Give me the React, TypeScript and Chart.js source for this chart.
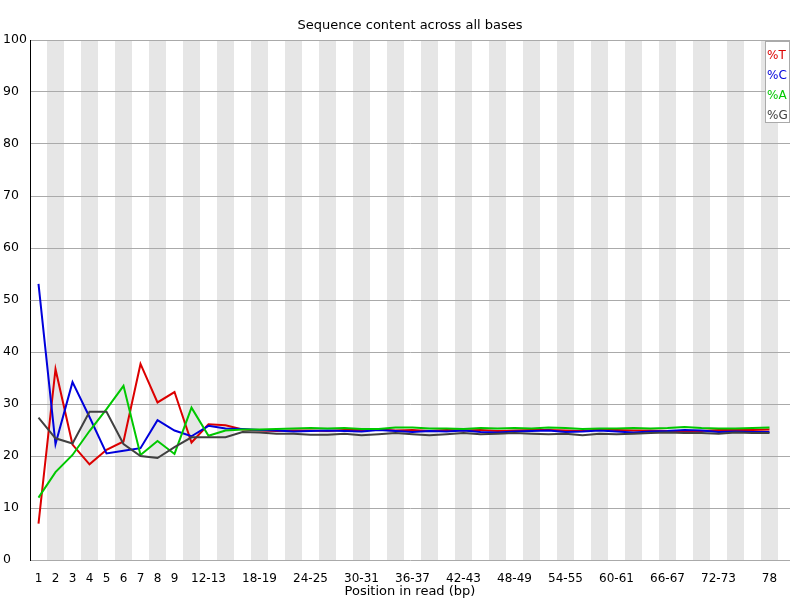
import React, { useEffect, useRef } from "react";
import { Chart, registerables } from "chart.js";

Chart.register(...registerables);

const categories: string[] = [
  "1", "2", "3", "4", "5", "6", "7", "8", "9",
  "10-11", "12-13", "14-15", "16-17", "18-19", "20-21", "22-23", "24-25", "26-27",
  "28-29", "30-31", "32-33", "34-35", "36-37", "38-39", "40-41", "42-43", "44-45",
  "46-47", "48-49", "50-51", "52-53", "54-55", "56-57", "58-59", "60-61", "62-63",
  "64-65", "66-67", "68-69", "70-71", "72-73", "74-75", "76-77", "78",
];

const xTickLabels: string[] = [
  "1", "2", "3", "4", "5", "6", "7", "8", "9", "12-13", "18-19", "24-25", "30-31",
  "36-37", "42-43", "48-49", "54-55", "60-61", "66-67", "72-73", "78",
];

const pctT: number[] = [
  7.0, 36.7, 22.2, 18.4, 21.2, 22.8, 37.7, 30.3, 32.3, 22.6, 26.1, 25.9, 25.1,
  24.9, 24.8, 24.9, 24.9, 24.8, 25.0, 25.0, 25.1, 24.9, 25.0, 24.8, 25.0, 24.9,
  25.0, 24.8, 24.9, 25.0, 25.0, 24.9, 24.8, 25.1, 25.0, 24.9, 24.9, 24.8, 24.7,
  24.8, 25.0, 25.0, 25.0, 25.1,
];

const pctC: number[] = [
  53.1, 22.3, 34.2, 27.5, 20.5, 21.0, 21.5, 26.9, 24.9, 23.8, 25.8, 25.3, 25.2,
  25.0, 24.9, 24.7, 24.8, 24.9, 24.8, 24.7, 25.0, 24.8, 24.6, 24.8, 24.7, 24.9,
  24.6, 24.5, 24.7, 24.8, 24.9, 24.6, 24.7, 24.9, 24.7, 24.5, 24.7, 24.8, 25.0,
  24.9, 24.6, 24.7, 24.6, 24.6,
];

const pctA: number[] = [
  12.0, 16.9, 20.2, 24.8, 29.0, 33.5, 20.2, 22.9, 20.4, 29.3, 23.9, 24.9, 25.1,
  25.1, 25.2, 25.3, 25.4, 25.3, 25.4, 25.2, 25.2, 25.5, 25.5, 25.3, 25.3, 25.2,
  25.4, 25.3, 25.4, 25.3, 25.5, 25.4, 25.2, 25.3, 25.3, 25.4, 25.3, 25.4, 25.6,
  25.4, 25.3, 25.3, 25.4, 25.5,
];

const pctG: number[] = [
  27.4, 23.4, 22.4, 28.5, 28.5, 22.3, 20.0, 19.6, 21.7, 23.6, 23.6, 23.6, 24.6,
  24.5, 24.3, 24.3, 24.1, 24.1, 24.3, 24.0, 24.2, 24.4, 24.2, 24.0, 24.2, 24.4,
  24.2, 24.3, 24.4, 24.3, 24.2, 24.3, 24.0, 24.3, 24.2, 24.3, 24.4, 24.5, 24.4,
  24.4, 24.3, 24.5, 24.4, 24.4,
];

const seriesNames: string[] = ["%T", "%C", "%A", "%G"];
const seriesColors: string[] = ["#dc0000", "#0000dc", "#00c800", "#404040"];

const stripePlugin = {
  id: "stripes",
  beforeDraw(chart: any) {
    const { ctx, chartArea, scales } = chart;
    const xs = scales.x;
    ctx.save();
    ctx.fillStyle = "#e6e6e6";
    for (let i = 1; i < categories.length; i += 2) {
      const x0 = xs.getPixelForValue(i - 0.5);
      const x1 = xs.getPixelForValue(i + 0.5);
      ctx.fillRect(x0, chartArea.top, x1 - x0, chartArea.bottom - chartArea.top);
    }
    ctx.restore();
  },
};

const legendPlugin = {
  id: "customLegend",
  afterDraw(chart: any) {
    const { ctx, chartArea } = chart;
    const right = chartArea.right;
    const top = chartArea.top + 1;
    const w = 25;
    const h = 82;
    ctx.save();
    ctx.fillStyle = "#ffffff";
    ctx.fillRect(right - w, top, w, h);
    ctx.strokeStyle = "#aaaaaa";
    ctx.lineWidth = 1;
    ctx.strokeRect(right - w + 0.5, top + 0.5, w - 1, h - 1);
    ctx.font = "12px 'DejaVu Sans'";
    ctx.textBaseline = "middle";
    ctx.textAlign = "left";
    seriesNames.forEach((name, i) => {
      ctx.fillStyle = seriesColors[i];
      ctx.fillText(name, right - w + 2, top + 15 + i * 20);
    });
    ctx.restore();
  },
};

export default function App() {
  const canvasRef = useRef<HTMLCanvasElement | null>(null);

  useEffect(() => {
    if (!canvasRef.current) return;
    Chart.defaults.font.family = "'DejaVu Sans'";
    Chart.defaults.font.size = 12;
    Chart.defaults.color = "#000000";

    const seriesValues = [pctT, pctC, pctA, pctG];
    const tickIdx = xTickLabels.map((l) => categories.indexOf(l));

    const chart = new Chart(canvasRef.current, {
      type: "line",
      data: {
        datasets: seriesValues.map((vals, s) => ({
          label: seriesNames[s],
          data: vals.map((v, i) => ({ x: i, y: v })),
          borderColor: seriesColors[s],
          backgroundColor: seriesColors[s],
          borderWidth: 2,
          pointRadius: 0,
          tension: 0,
          fill: false,
          order: 3 - s,
        })),
      },
      options: {
        animation: false,
        responsive: false,
        layout: { padding: { left: 3, right: 10, top: 0, bottom: 0 } },
        plugins: {
          legend: { display: false },
          tooltip: { enabled: false },
          title: {
            display: true,
            text: "Sequence content across all bases",
            fullSize: false,
            font: { size: 13, weight: "normal" },
            color: "#000000",
            padding: { top: 17.7, bottom: 6.7 },
          },
        },
        scales: {
          x: {
            type: "linear",
            min: -0.5,
            max: -0.5 + 760 / 17,
            grid: { display: false },
            border: { display: false },
            afterBuildTicks: (scale: any) => {
              scale.ticks = tickIdx.map((v) => ({ value: v }));
            },
            afterFit: (scale: any) => {
              scale.height = 40;
            },
            ticks: {
              autoSkip: false,
              maxRotation: 0,
              minRotation: 0,
              padding: 4,
              color: "#000000",
              callback: (value: any) => categories[Number(value)] ?? "",
            },
            title: {
              display: true,
              text: "Position in read (bp)",
              color: "#000000",
              font: { size: 13 },
              padding: { top: 0, bottom: 0.7 },
            },
          },
          y: {
            type: "linear",
            min: 0,
            max: 100,
            afterFit: (scale: any) => {
              scale.width = 27;
            },
            grid: { color: "#aaaaaa", lineWidth: 1, drawTicks: false },
            border: { display: true, color: "#000000", width: 1 },
            ticks: {
              stepSize: 10,
              crossAlign: "far",
              color: "#000000",
              padding: 0,
              font: { size: 12.5 },
            },
          },
        },
      },
      plugins: [stripePlugin, legendPlugin],
    } as any);

    return () => {
      chart.destroy();
    };
  }, []);

  return (
    <div style={{ position: "absolute", left: 0, top: 0, width: 800, height: 600, background: "#ffffff" }}>
      <canvas ref={canvasRef} width={800} height={600} />
    </div>
  );
}
